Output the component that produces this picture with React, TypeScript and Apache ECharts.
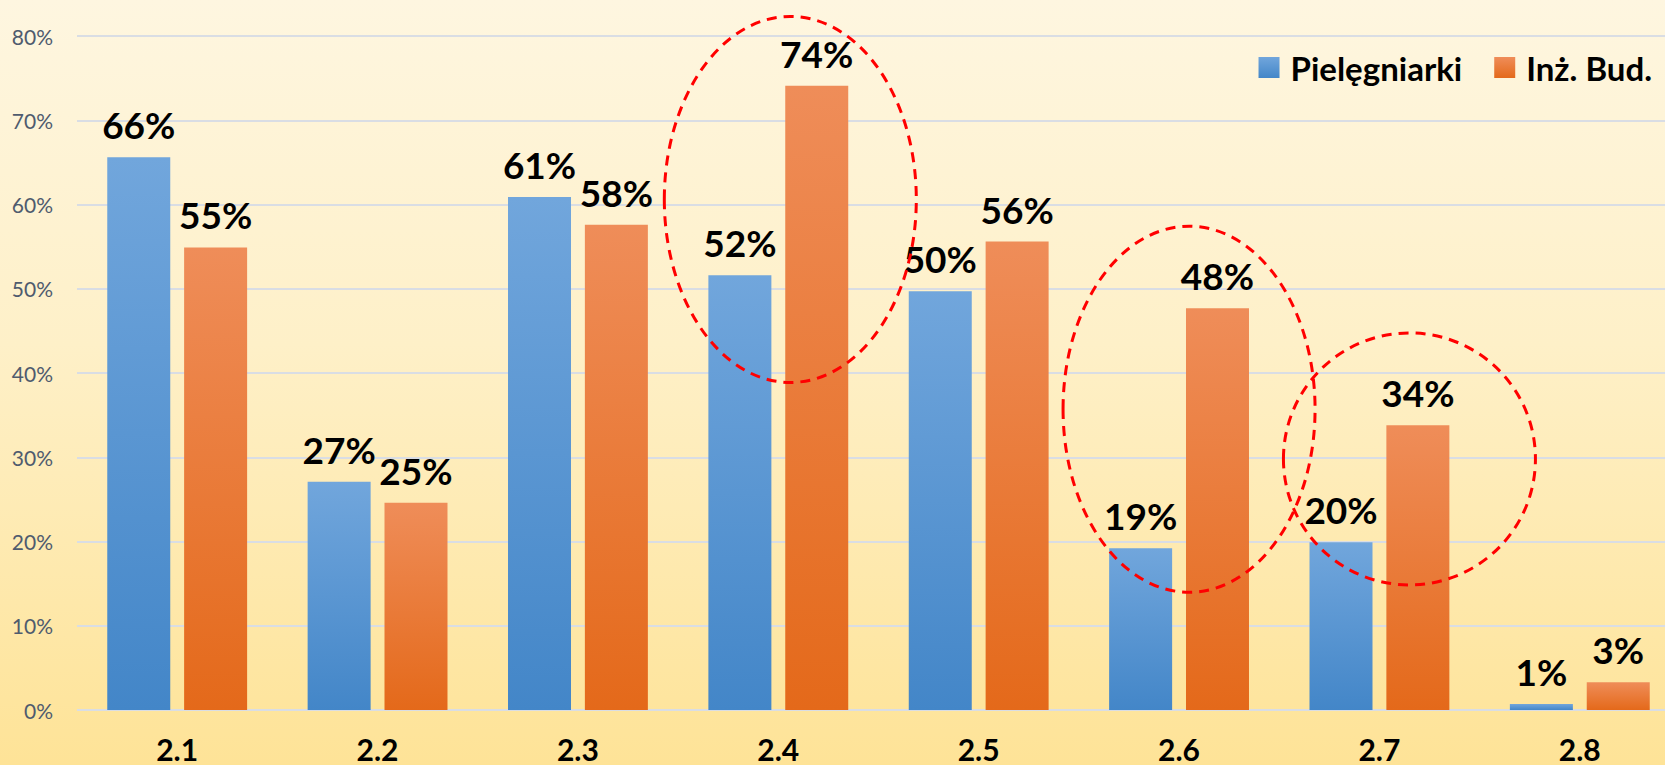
import React, { useEffect, useRef } from "react";
import * as echarts from "echarts";

const categories = ["2.1", "2.2", "2.3", "2.4", "2.5", "2.6", "2.7", "2.8"];
const seriesNames = ["Pielęgniarki", "Inż. Bud."];
const nursesValues = [65.6, 27.1, 60.9, 51.6, 49.7, 19.2, 19.9, 0.7];
const engineersValues = [54.9, 24.6, 57.6, 74.1, 55.6, 47.7, 33.8, 3.3];
const yMin = 0;
const yMax = 80;
const yInterval = 10;

// highlighted groups (dashed red ellipses)
const highlightCategories = ["2.4", "2.6", "2.7"];
const highlightCenterValues = [60.6, 35.7, 29.8];

const FONT = "Lato, 'Noto Sans', 'DejaVu Sans', sans-serif";

const ellipseStyle = [
  { dx: 12, rx: 126, ry: 183 },
  { dx: 10, rx: 126, ry: 183 },
  { dx: 30, rx: 126, ry: 126 },
];

function barGradient(top: string, bottom: string) {
  return new echarts.graphic.LinearGradient(0, 0, 0, 1, [
    { offset: 0, color: top },
    { offset: 1, color: bottom },
  ]);
}

export default function App() {
  const ref = useRef<HTMLDivElement>(null);

  useEffect(() => {
    if (!ref.current) return;
    const chart = echarts.init(ref.current, undefined, { renderer: "svg" });
    const labelCfg = {
      show: true,
      position: "top" as const,
      distance: 14,
      fontFamily: FONT,
      fontSize: 37,
      fontWeight: "bold" as const,
      color: "#000000",
      formatter: (p: any) => Math.round(p.value) + "%",
    };
    chart.setOption({
      animation: false,
      backgroundColor: "transparent",
      grid: {
        left: 77,
        top: 36,
        bottom: 55,
        width: 1603,
        containLabel: false,
        outerBoundsMode: "none",
      },
      legend: {
        right: 8,
        top: 46,
        icon: "rect",
        itemWidth: 21,
        itemHeight: 21,
        itemGap: 32,
        textStyle: {
          fontFamily: FONT,
          fontSize: 33,
          fontWeight: "bold",
          color: "#000000",
          padding: [0, 0, 0, 6],
        },
        data: seriesNames,
      },
      xAxis: {
        type: "category",
        data: categories,
        axisLine: { show: false },
        axisTick: { show: false },
        axisLabel: {
          margin: 24,
          fontFamily: FONT,
          fontSize: 30,
          fontWeight: "bold",
          color: "#000000",
        },
      },
      yAxis: {
        type: "value",
        min: yMin,
        max: yMax,
        interval: yInterval,
        axisLine: { show: false },
        axisTick: { show: false },
        axisLabel: {
          margin: 24,
          fontFamily: FONT,
          fontSize: 21,
          color: "#4f5b6e",
          formatter: "{value}%",
        },
        splitLine: { lineStyle: { color: "#d9dde4", width: 2 } },
      },
      series: [
        {
          name: seriesNames[0],
          type: "bar",
          data: nursesValues,
          barWidth: 63,
          barGap: "22%",
          itemStyle: { color: barGradient("#71a6dc", "#4386c8") },
          label: labelCfg,
        },
        {
          name: seriesNames[1],
          type: "bar",
          data: engineersValues,
          barWidth: 63,
          barGap: "22%",
          itemStyle: { color: barGradient("#ef8d59", "#e4691a") },
          label: labelCfg,
        },
      ],
    });

    const ellipses = highlightCategories.map((cat, i) => {
      const pt = chart.convertToPixel({ gridIndex: 0 }, [cat, highlightCenterValues[i]]) as number[];
      const s = ellipseStyle[i];
      return {
        type: "ellipse",
        silent: true,
        z: 100,
        shape: { cx: pt[0] + s.dx, cy: pt[1], rx: s.rx, ry: s.ry },
        style: { fill: "none", stroke: "#ff0000", lineWidth: 3, lineDash: [10, 7] },
      };
    });
    chart.setOption({ graphic: ellipses });

    return () => chart.dispose();
  }, []);

  return (
    <div
      style={{
        position: "absolute",
        left: 0,
        top: 0,
        width: 1665,
        height: 765,
        overflow: "hidden",
        background: "linear-gradient(to bottom, #fef6e0 0%, #fef0c8 45%, #fee397 100%)",
      }}
    >
      <div ref={ref} style={{ width: 1665, height: 765 }} />
    </div>
  );
}
